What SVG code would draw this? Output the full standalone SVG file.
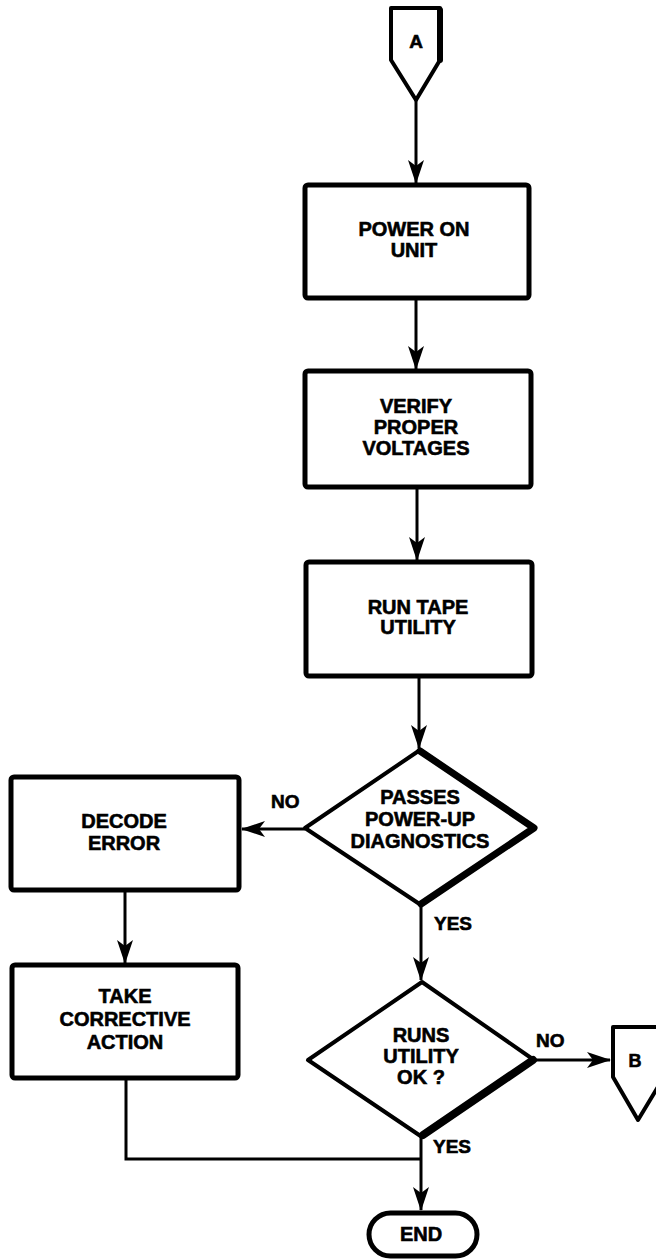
<svg xmlns="http://www.w3.org/2000/svg" width="656" height="1259" viewBox="0 0 656 1259">
<style>
.box{fill:#fff;stroke:#000;stroke-width:5;stroke-linejoin:round}
.thin{fill:#fff;stroke:#000;stroke-width:4;stroke-linejoin:round}
.heavy{fill:none;stroke:#000;stroke-width:8;stroke-linejoin:round;stroke-linecap:round}
.ln{fill:none;stroke:#000;stroke-width:3}
.t{font-family:"Liberation Sans",Arial,sans-serif;font-weight:bold;font-size:20px;text-anchor:middle;fill:#000;stroke:#000;stroke-width:0.6}
.lb{font-family:"Liberation Sans",Arial,sans-serif;font-weight:bold;font-size:19px;fill:#000;stroke:#000;stroke-width:0.6}
</style>
<defs>
<marker id="ah" markerUnits="userSpaceOnUse" markerWidth="24" markerHeight="16" viewBox="0 0 24 16" refX="23" refY="8" orient="auto">
<path d="M0,0 L24,8 L0,16 L6,8 Z" fill="#000"/>
</marker>
</defs>
<rect width="656" height="1259" fill="#fff"/>
<g id="connectors">
<line class="ln" x1="416" y1="100" x2="416" y2="183" marker-end="url(#ah)"/>
<line class="ln" x1="416" y1="298" x2="416" y2="369" marker-end="url(#ah)"/>
<line class="ln" x1="417" y1="487" x2="417" y2="560" marker-end="url(#ah)"/>
<line class="ln" x1="419" y1="676" x2="419" y2="748" marker-end="url(#ah)"/>
<line class="ln" x1="305" y1="829" x2="242" y2="829" marker-end="url(#ah)"/>
<line class="ln" x1="125" y1="890" x2="125" y2="963" marker-end="url(#ah)"/>
<line class="ln" x1="421" y1="905" x2="421" y2="980" marker-end="url(#ah)"/>
<line class="ln" x1="534" y1="1060" x2="610" y2="1060" marker-end="url(#ah)"/>
<polyline class="ln" points="126,1078 126,1159 421,1159"/>
<line class="ln" x1="421" y1="1137" x2="421" y2="1210" marker-end="url(#ah)"/>
<text class="lb" x="271" y="808">NO</text>
<text class="lb" x="434" y="930">YES</text>
<text class="lb" x="536" y="1047">NO</text>
<text class="lb" x="433" y="1153">YES</text>
</g>
<g id="connA">
<path class="thin" d="M391,8 L440,8 L440,60 L416,100 L391,60 Z"/>
<polyline class="heavy" points="440,10 440,60" style="stroke-width:6"/>
<text class="t" x="416" y="48" style="font-size:19px">A</text>
</g>
<g id="powerOn">
<rect class="box" x="305" y="185" width="224" height="113" rx="3"/>
<text class="t" x="414" y="236">POWER ON</text>
<text class="t" x="414" y="257">UNIT</text>
</g>
<g id="verify">
<rect class="box" x="305" y="371" width="226" height="116" rx="3"/>
<text class="t" x="416" y="413">VERIFY</text>
<text class="t" x="416" y="434">PROPER</text>
<text class="t" x="416" y="455">VOLTAGES</text>
</g>
<g id="runTape">
<rect class="box" x="306" y="562" width="226" height="114" rx="3"/>
<text class="t" x="418" y="614">RUN TAPE</text>
<text class="t" x="418" y="634">UTILITY</text>
</g>
<g id="passes">
<polygon class="thin" points="420,750 535,828 421,905 305,828"/>
<polyline class="heavy" points="420,751 534,828 421,904" style="stroke-width:7"/>
<text class="t" x="420" y="804">PASSES</text>
<text class="t" x="420" y="826">POWER-UP</text>
<text class="t" x="420" y="848">DIAGNOSTICS</text>
</g>
<g id="decode">
<rect class="box" x="11" y="777" width="228" height="113" rx="3"/>
<text class="t" x="124" y="828">DECODE</text>
<text class="t" x="124" y="850">ERROR</text>
</g>
<g id="corrective">
<rect class="box" x="12" y="965" width="226" height="113" rx="3"/>
<text class="t" x="125" y="1003">TAKE</text>
<text class="t" x="125" y="1026">CORRECTIVE</text>
<text class="t" x="125" y="1049">ACTION</text>
</g>
<g id="runsOk">
<polygon class="thin" points="422,982 534,1060 422,1137 308,1060"/>
<polyline class="heavy" points="533,1060 423,1135" style="stroke-width:8"/>
<text class="t" x="421" y="1042">RUNS</text>
<text class="t" x="421" y="1063">UTILITY</text>
<text class="t" x="421" y="1084">OK ?</text>
</g>
<g id="connB">
<path class="thin" d="M613,1027 L664,1027 L664,1077 L638,1120 L613,1077 Z"/>
<text class="t" x="635" y="1067" style="font-size:18px">B</text>
</g>
<g id="end">
<rect class="box" x="369" y="1213" width="108" height="43" rx="21.5"/>
<text class="t" x="421" y="1241">END</text>
</g>
</svg>
